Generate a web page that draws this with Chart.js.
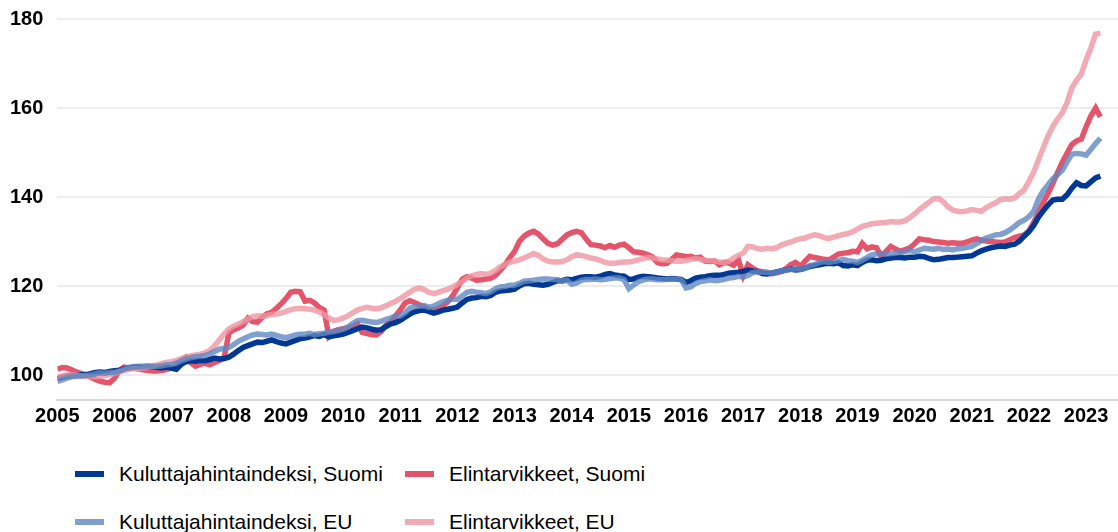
<!DOCTYPE html>
<html lang="fi">
<head>
<meta charset="utf-8">
<title>Kuluttajahintaindeksi ja elintarvikkeet</title>
<script src="https://cdn.jsdelivr.net/npm/chart.js@4.4.1/dist/chart.umd.min.js"></script>
<style>
    html, body { margin: 0; padding: 0; background: #fff; }
    #wrap { position: relative; width: 1118px; height: 532px; overflow: hidden; }
    #chart { position: absolute; left: 0; top: 0; }
    #legend {
        position: absolute; left: 75px; top: 450px;
        display: grid; grid-template-columns: 330px auto; grid-auto-rows: 48px;
        font-family: 'Liberation Sans', Arial, sans-serif; font-size: 21px; color: #000;
    }
    #legend .item { display: flex; align-items: center; white-space: nowrap; }
    #legend .mark { display: inline-block; width: 29px; height: 6px; margin-right: 15px; }
</style>
</head>
<body>
<div id="wrap">
    <canvas id="chart" width="1118" height="440"></canvas>
    <div id="legend"></div>
</div>
<script>
// vuodet x-akselille (tammikuu 2005 = indeksi 0)
const YEARS = ['2005', '2006', '2007', '2008', '2009', '2010', '2011', '2012', '2013', '2014',
    '2015', '2016', '2017', '2018', '2019', '2020', '2021', '2022', '2023'];
const Y_TICKS = [100, 120, 140, 160, 180];

// kuukausiarvot 1/2005 - 4/2023, 2005 = 100
const KHI_SUOMI = [
    99.2, 99.5, 99.8, 99.9, 100.0, 100.1, 100.1, 100.3, 100.6, 100.7, 100.6, 100.8,
    101.0, 101.1, 101.4, 101.6, 101.8, 101.8, 101.7, 101.8, 101.9, 101.7, 101.6, 101.8,
    101.5, 101.3, 102.4, 103.0, 103.2, 103.1, 103.3, 103.2, 103.5, 103.8, 103.6, 103.7,
    104.0, 104.7, 105.5, 106.2, 106.6, 107.0, 107.4, 107.3, 107.6, 107.9, 107.5, 107.2,
    107.0, 107.4, 107.8, 108.2, 108.3, 108.6, 108.9, 108.7, 109.1, 108.6, 108.8, 109.0,
    109.2, 109.6, 110.0, 110.4, 110.8, 110.6, 110.3, 110.1, 110.2, 110.9, 111.5, 111.8,
    112.3, 113.0, 113.7, 114.2, 114.5, 114.6, 114.3, 113.9, 114.2, 114.6, 114.8, 115.0,
    115.3, 116.2, 117.0, 117.3, 117.4, 117.7, 117.6, 117.9, 118.6, 118.9, 119.0, 119.1,
    119.3, 120.0, 120.5, 120.6, 120.4, 120.3, 120.2, 120.4, 120.8, 121.2, 121.2, 121.5,
    121.4, 121.7, 122.0, 122.1, 122.1, 122.0, 122.2, 122.6, 122.8, 122.5, 122.3, 122.2,
    121.5, 121.6, 122.0, 122.2, 122.1, 122.0, 121.8, 121.7, 121.6, 121.7, 121.6, 121.5,
    120.8, 121.2, 121.8, 122.0, 122.1, 122.3, 122.4, 122.4, 122.6, 122.9, 123.0, 123.1,
    123.3, 123.6, 123.4, 123.3, 122.8, 122.7, 122.9, 123.2, 123.4, 123.6, 123.8, 123.6,
    123.7, 124.0, 124.4, 124.6, 124.8, 125.0, 125.1, 125.0, 125.2, 124.6, 124.5, 124.8,
    124.6, 125.3, 125.8, 125.9, 125.7, 125.8, 126.1, 126.3, 126.4, 126.4, 126.3, 126.5,
    126.5, 126.7, 126.6, 126.2, 125.9, 126.0, 126.2, 126.4, 126.4, 126.5, 126.6, 126.7,
    126.8, 127.4, 127.9, 128.3, 128.6, 128.8, 129.0, 128.9, 129.2, 129.4, 130.1, 131.2,
    132.2, 133.6, 135.5, 136.9, 138.2, 139.3, 139.5, 139.5, 140.5, 142.0, 143.2, 142.6,
    142.5, 143.4, 144.3, 144.7
];
const ELINT_SUOMI = [
    101.3, 101.7, 101.6, 101.2, 100.7, 100.4, 100.1, 99.5, 99.0, 98.6, 98.4, 98.3,
    99.3, 101.0, 101.8, 101.5, 101.6, 101.4, 101.2, 101.0, 100.9, 100.9, 101.0, 101.3,
    101.6, 102.0, 103.2, 104.0, 102.8, 102.0, 102.4, 102.7, 102.3, 102.8, 103.3, 103.8,
    109.4, 110.2, 110.6, 111.2, 112.8, 112.0, 111.9, 113.0, 113.8, 114.1, 115.0, 116.0,
    117.2, 118.6, 118.8, 118.7, 116.6, 116.8, 116.2, 115.2, 114.6, 108.7, 109.8, 110.2,
    110.4, 110.6, 110.9, 111.5, 109.6, 109.3, 109.1, 109.0, 109.8, 111.2, 112.0, 113.3,
    114.6, 116.2, 116.7, 116.3, 115.8, 115.3, 114.8, 114.6, 115.0, 115.6, 116.5, 117.8,
    119.6, 121.5, 122.1, 121.8, 121.3, 121.4, 121.6, 121.8, 122.4, 123.5, 124.8, 126.4,
    127.8, 130.0, 131.2, 131.9, 132.3, 131.7, 130.6, 129.6, 129.2, 129.5, 130.5, 131.5,
    132.0, 132.3, 132.0, 130.6, 129.3, 129.2, 129.0, 128.6, 129.1, 128.7, 129.2, 129.4,
    128.6, 127.7, 127.6, 127.4, 127.0, 126.5, 125.3, 125.0, 125.1, 126.0, 127.0, 126.8,
    126.6, 126.7, 126.3, 126.5, 125.6, 125.5, 125.6, 124.8, 125.3, 125.2, 124.7, 125.9,
    122.4, 124.8, 124.0, 123.4, 123.2, 123.0, 122.8, 123.0, 123.3, 123.9, 124.8, 125.3,
    124.4, 125.6, 126.7, 126.4, 126.2, 126.0, 125.9, 126.5, 127.2, 127.4, 127.5, 127.8,
    127.7, 129.6, 128.4, 128.8, 128.6, 126.6, 127.8, 128.9, 128.3, 127.8, 128.2, 128.6,
    129.5, 130.6, 130.4, 130.3, 130.0, 129.9, 129.8, 129.6, 129.7, 129.6, 129.6, 129.9,
    130.3, 130.6, 130.3, 130.1, 130.0, 129.9, 129.8, 129.9, 130.4, 130.9, 131.2, 131.5,
    132.4, 134.3, 136.6, 138.8, 140.8, 143.0, 145.5, 147.8, 149.8, 151.8, 152.6, 153.0,
    155.8, 158.2, 160.0, 158.0
];
const KHI_EU = [
    98.6, 98.9, 99.3, 99.6, 99.7, 99.8, 99.9, 100.0, 100.3, 100.5, 100.4, 100.6,
    100.6, 100.9, 101.3, 101.7, 101.9, 102.0, 102.0, 102.1, 102.0, 102.0, 102.1, 102.3,
    102.4, 102.7, 103.2, 103.6, 103.9, 104.1, 104.2, 104.4, 104.8, 105.3, 105.8, 106.0,
    106.2, 106.8, 107.6, 108.1, 108.6, 109.0, 109.2, 109.1, 109.0, 109.2, 108.9, 108.6,
    108.4, 108.7, 109.0, 109.2, 109.2, 109.4, 109.1, 109.3, 109.4, 109.6, 109.8, 110.0,
    110.3, 110.8, 111.6, 112.2, 112.3, 112.1, 111.9, 111.8, 112.1, 112.5, 112.8, 113.3,
    113.3, 114.0, 115.0, 115.4, 115.5, 115.6, 115.2, 115.5, 116.0, 116.5, 116.8, 117.1,
    117.0, 117.8, 118.6, 118.8, 118.6, 118.5, 118.3, 118.7, 119.4, 119.8, 119.9, 120.2,
    120.2, 120.6, 121.1, 121.2, 121.3, 121.5, 121.6, 121.6, 121.5, 121.4, 121.1, 121.3,
    120.4, 120.7, 121.3, 121.5, 121.5, 121.6, 121.4, 121.5, 121.7, 121.8, 121.8, 121.4,
    119.4, 120.2, 121.0, 121.4, 121.6, 121.6, 121.4, 121.4, 121.5, 121.6, 121.5, 121.4,
    119.6, 119.8, 120.6, 121.0, 121.2, 121.4, 121.2, 121.3, 121.5, 121.8, 121.9, 122.2,
    122.0, 122.4, 123.0, 123.2, 123.1, 123.1, 122.9, 123.1, 123.4, 123.6, 123.7, 123.9,
    123.8, 124.0, 124.6, 124.8, 125.3, 125.5, 125.3, 125.5, 125.7, 126.0, 125.7, 125.6,
    125.3, 125.8, 126.4, 127.0, 127.2, 127.3, 127.2, 127.3, 127.4, 127.6, 127.7, 128.0,
    127.7, 128.1, 128.5, 128.4, 128.3, 128.5, 128.2, 128.3, 128.1, 128.4, 128.5, 128.7,
    128.9, 129.5, 130.2, 130.8, 131.1, 131.5, 131.6, 132.0, 132.6, 133.4, 134.3, 134.8,
    135.6, 136.8, 139.5, 141.4, 142.7, 144.1, 145.0, 146.0, 147.9, 149.6, 149.8, 149.7,
    149.4, 150.7, 152.0, 153.2
];
const ELINT_EU = [
    99.6, 99.8, 100.0, 100.1, 100.0, 99.8, 99.7, 99.6, 99.6, 99.7, 99.9, 100.1,
    100.4, 100.7, 101.0, 101.3, 101.5, 101.4, 101.5, 101.8, 102.0, 102.3, 102.6, 102.9,
    103.0, 103.3, 103.7, 104.0, 104.3, 104.5, 104.7, 105.0, 105.5, 106.6, 107.9, 109.2,
    110.3, 111.0, 111.5, 112.0, 112.6, 113.1, 113.3, 113.2, 113.4, 113.6, 113.7, 113.9,
    114.3, 114.7, 114.9, 115.0, 114.9, 114.8, 114.6, 114.2, 113.6, 112.8, 112.3, 112.4,
    112.8, 113.3, 114.0, 114.6, 115.0, 115.2, 115.0, 114.9, 115.1, 115.6, 116.1, 116.6,
    117.2, 117.9, 118.6, 119.3, 119.6, 119.2, 118.6, 118.3, 118.6, 119.0, 119.3, 119.8,
    120.4, 121.0, 121.8, 122.3, 122.6, 122.8, 122.6, 122.9, 123.5, 124.3, 124.9, 125.3,
    125.6, 125.9, 126.3, 126.8, 127.3, 126.9, 126.1, 125.6, 125.4, 125.4, 125.5, 125.9,
    126.6, 127.0, 126.9, 126.6, 126.3, 126.1, 125.8, 125.3, 125.1, 125.1, 125.3, 125.4,
    125.4, 125.6, 125.9, 126.2, 126.4, 126.3, 126.1, 125.9, 125.8, 125.7, 125.6, 125.6,
    125.8, 126.0, 126.2, 126.0, 125.8, 125.7, 125.6, 125.4, 125.3, 125.6, 126.3, 126.9,
    127.4, 128.9, 128.8, 128.4, 128.3, 128.5, 128.4, 128.6, 129.2, 129.6, 129.9, 130.3,
    130.6, 130.8, 131.2, 131.5, 131.3, 130.9, 130.7, 131.0, 131.3, 131.6, 131.8, 132.2,
    132.8, 133.4, 133.7, 134.0, 134.1, 134.2, 134.3, 134.5, 134.4, 134.4, 134.7, 135.4,
    136.2, 137.2, 138.0, 138.8, 139.6, 139.7, 139.0, 137.8, 137.1, 136.8, 136.7, 136.9,
    137.2, 137.0, 136.8, 137.6, 138.2, 138.7, 139.4, 139.6, 139.5, 139.8, 140.8, 141.6,
    143.5, 145.6, 148.4, 151.0, 153.7, 155.8, 157.5, 158.9, 161.2, 164.5, 166.2, 167.6,
    170.8, 173.5, 176.6, 176.8
];

const toPoints = arr => arr.map((v, i) => ({ x: i, y: v }));

const COLORS = {
    khiSuomi: '#003893',
    elintSuomi: '#e4546a',
    khiEu: 'rgba(95, 135, 195, 0.8)',
    elintEu: 'rgba(239, 149, 161, 0.8)'
};

function lineSet(label, data, color, order) {
    return {
        label: label,
        data: toPoints(data),
        borderColor: color,
        backgroundColor: color,
        borderWidth: 5.5,
        pointRadius: 0,
        tension: 0,
        order: order
    };
}

// HTML-selite kahteen sarakkeeseen
const htmlLegend = {
    id: 'htmlLegend',
    afterUpdate(chart) {
        const box = document.getElementById('legend');
        box.innerHTML = '';
        chart.data.datasets.forEach(ds => {
            const item = document.createElement('div');
            item.className = 'item';
            const mark = document.createElement('span');
            mark.className = 'mark';
            mark.style.background = ds.borderColor;
            const text = document.createElement('span');
            text.textContent = ds.label;
            item.appendChild(mark);
            item.appendChild(text);
            box.appendChild(item);
        });
    }
};

Chart.defaults.font.family = "'Liberation Sans', Arial, sans-serif";
Chart.defaults.color = '#000';

const chart = new Chart(document.getElementById('chart'), {
    type: 'line',
    data: {
        datasets: [
            lineSet('Kuluttajahintaindeksi, Suomi', KHI_SUOMI, COLORS.khiSuomi, 1),
            lineSet('Elintarvikkeet, Suomi', ELINT_SUOMI, COLORS.elintSuomi, 1),
            lineSet('Kuluttajahintaindeksi, EU', KHI_EU, COLORS.khiEu, 0),
            lineSet('Elintarvikkeet, EU', ELINT_EU, COLORS.elintEu, 0)
        ]
    },
    options: {
        responsive: false,
        animation: false,
        layout: {
            padding: { left: 10, top: 19, right: 0, bottom: 8 }
        },
        plugins: {
            legend: { display: false },
            tooltip: { enabled: false }
        },
        scales: {
            x: {
                type: 'linear',
                min: 0,
                max: 222.7,
                afterBuildTicks: function(scale) {
                    scale.ticks = YEARS.map((y, k) => ({ value: k * 12 }));
                },
                ticks: {
                    autoSkip: false,
                    maxRotation: 0,
                    padding: 4,
                    font: { size: 20, weight: 'bold' },
                    callback: function(value, index) {
                        return YEARS[index];
                    }
                },
                grid: { display: false, drawTicks: false },
                border: { display: true, color: '#d9d9d9', width: 2 }
            },
            y: {
                min: 94.4,
                max: 180,
                afterBuildTicks: function(scale) {
                    scale.ticks = Y_TICKS.map(v => ({ value: v }));
                },
                ticks: {
                    padding: 0,
                    font: { size: 20, weight: 'bold' }
                },
                // väli tekstin ja kuva-alan välillä näkymättömillä tick-viivoilla
                grid: { color: '#ececec', lineWidth: 2, drawTicks: true, tickLength: 14, tickColor: 'rgba(0,0,0,0)' },
                border: { display: false }
            }
        }
    },
    plugins: [htmlLegend]
});
</script>
</body>
</html>
